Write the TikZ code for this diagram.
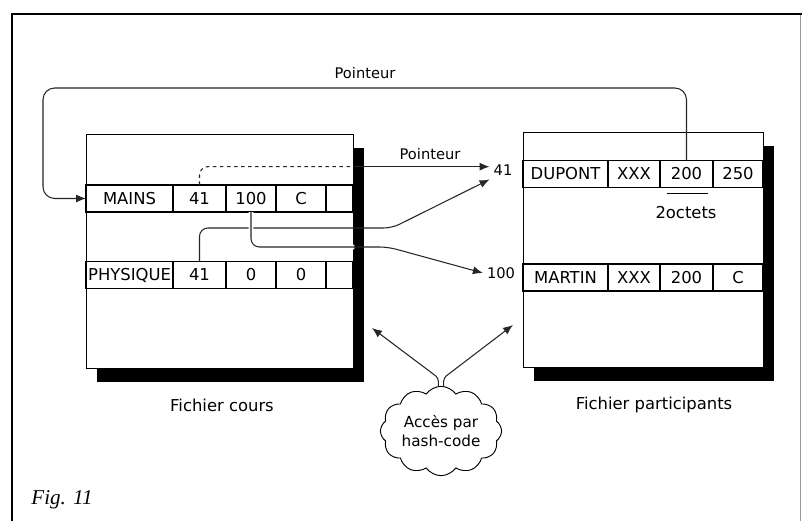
\documentclass[tikz,border=0pt]{standalone}
\usepackage{fontspec}
\setsansfont{DejaVu Sans}
\setmainfont{Liberation Serif}
\usetikzlibrary{positioning, shapes.symbols, shadows, arrows.meta}

\begin{document}
\begin{tikzpicture}[x=0.3mm, y=-0.3mm,
    font=\sffamily\fontsize{14}{16}\selectfont,
    filebox/.style={draw, line width=1.1pt, fill=white, anchor=north west,
        drop shadow={shadow xshift=3.2mm, shadow yshift=-4mm, fill=black, opacity=1}},
    cell/.style={draw, line width=1.4pt, fill=white, inner sep=0pt, outer sep=0pt, minimum height=8.1mm},
    link/.style={line width=0.9pt, black!85, rounded corners=2.5mm},
    arr/.style={link, -{Latex[length=3mm, width=2.4mm]}},
    tag/.style={font=\sffamily\fontsize{12.5}{14}\selectfont}]
    \useasboundingbox (0,0) rectangle (802,521);
    \draw[line width=1.2pt] (12,521) -- (12,14) -- (802,14);
    \draw[black!40] (800,15) -- (800,521);

    % fichier cours
    \node[filebox, minimum width=80.1mm, minimum height=70.2mm] (cours) at (86,134) {};
    \node[cell, minimum width=26.1mm, anchor=west] (mains) at (86,198.5) {MAINS};
    \node[cell, minimum width=15.9mm, right=0pt of mains] (m41) {41};
    \node[cell, minimum width=15mm, right=0pt of m41] (m100) {100};
    \node[cell, minimum width=15mm, right=0pt of m100] (mc) {C};
    \node[cell, minimum width=8.1mm, right=0pt of mc] (mx) {};
    \node[cell, minimum width=26.1mm, anchor=west] (phys) at (86,275) {PHYSIQUE};
    \node[cell, minimum width=15.9mm, right=0pt of phys] (p41) {41};
    \node[cell, minimum width=15mm, right=0pt of p41] (p0a) {0};
    \node[cell, minimum width=15mm, right=0pt of p0a] (p0b) {0};
    \node[cell, minimum width=8.1mm, right=0pt of p0b] (px) {};

    % fichier participants
    \node[filebox, minimum width=72mm, minimum height=70.5mm] (part) at (523,132) {};
    \node[cell, minimum width=25.5mm, anchor=west] (dupont) at (523,174) {DUPONT};
    \node[cell, minimum width=15.6mm, right=0pt of dupont] (dxxx) {XXX};
    \node[cell, minimum width=15.9mm, right=0pt of dxxx] (d200) {200};
    \node[cell, minimum width=15mm, right=0pt of d200] (d250) {250};
    \node[cell, minimum width=25.5mm, anchor=west] (martin) at (523,277.5) {MARTIN};
    \node[cell, minimum width=15.6mm, right=0pt of martin] (mxxx) {XXX};
    \node[cell, minimum width=15.9mm, right=0pt of mxxx] (m200) {200};
    \node[cell, minimum width=15mm, right=0pt of m200] (mcc) {C};

    \node (octets) at (686,213) {2octets};
    \draw[line width=0.9pt] ([shift={(-20,6)}]d200.south) -- ([shift={(21,6)}]d200.south);

    \node (coursname) at (222,405) {Fichier cours};
    \node (partname) at (654,405) {Fichier participants};
    \node[font=\rmfamily\itshape\fontsize{18}{20}\selectfont] (fig) at (62,500) {Fig. 11};

    % adresses
    \node[tag] (lbl41) at (503,170) {41};
    \node[tag] (lbl100) at (501,273) {100};
    \node[tag] (ptrtop) at (365,73) {Pointeur};
    \node[tag] (ptrmid) at (430,154) {Pointeur};

    % pointeur du haut
    \draw[arr, rounded corners=3.5mm] (d200.north) |- (43,88) |- (mains.west);

    % pointeurs du milieu
    \coordinate (in41) at ([yshift=1mm]lbl41.west);
    \coordinate (bend41) at (392,228);
    \coordinate (bend100) at (388,247);
    \draw[link, dashed] (m41.north) |- (cours.east |- in41);
    \draw[arr] (cours.east |- in41) -- (in41);
    \draw[arr] (p41.north) |- (bend41) -- (lbl41.south west);
    \draw[link, preaction={draw=white, line width=4pt}] (m100.south) |- (cours.east |- bend100);
    \draw[arr] (cours.east |- bend100) -- (bend100) -- (lbl100.west);

    % acces par hash-code
    \node[draw, cloud, cloud puffs=12, cloud puff arc=110, aspect=1.5, line width=0.8pt,
        minimum width=33mm, minimum height=22mm, align=center, inner sep=1pt,
        font=\sffamily\fontsize{13}{16}\selectfont] (hash) at (441,431) {Accès par\\hash-code};
    \coordinate (tipL) at (372,328);
    \coordinate (tipR) at (513,325);
    \draw[arr, rounded corners=1mm] ([xshift=-0.8mm]hash.north) -- ++(0,-8) -- (tipL);
    \draw[arr, rounded corners=1mm] ([xshift=0.8mm]hash.north) -- ++(0,-8) -- (tipR);
\end{tikzpicture}
\end{document}
